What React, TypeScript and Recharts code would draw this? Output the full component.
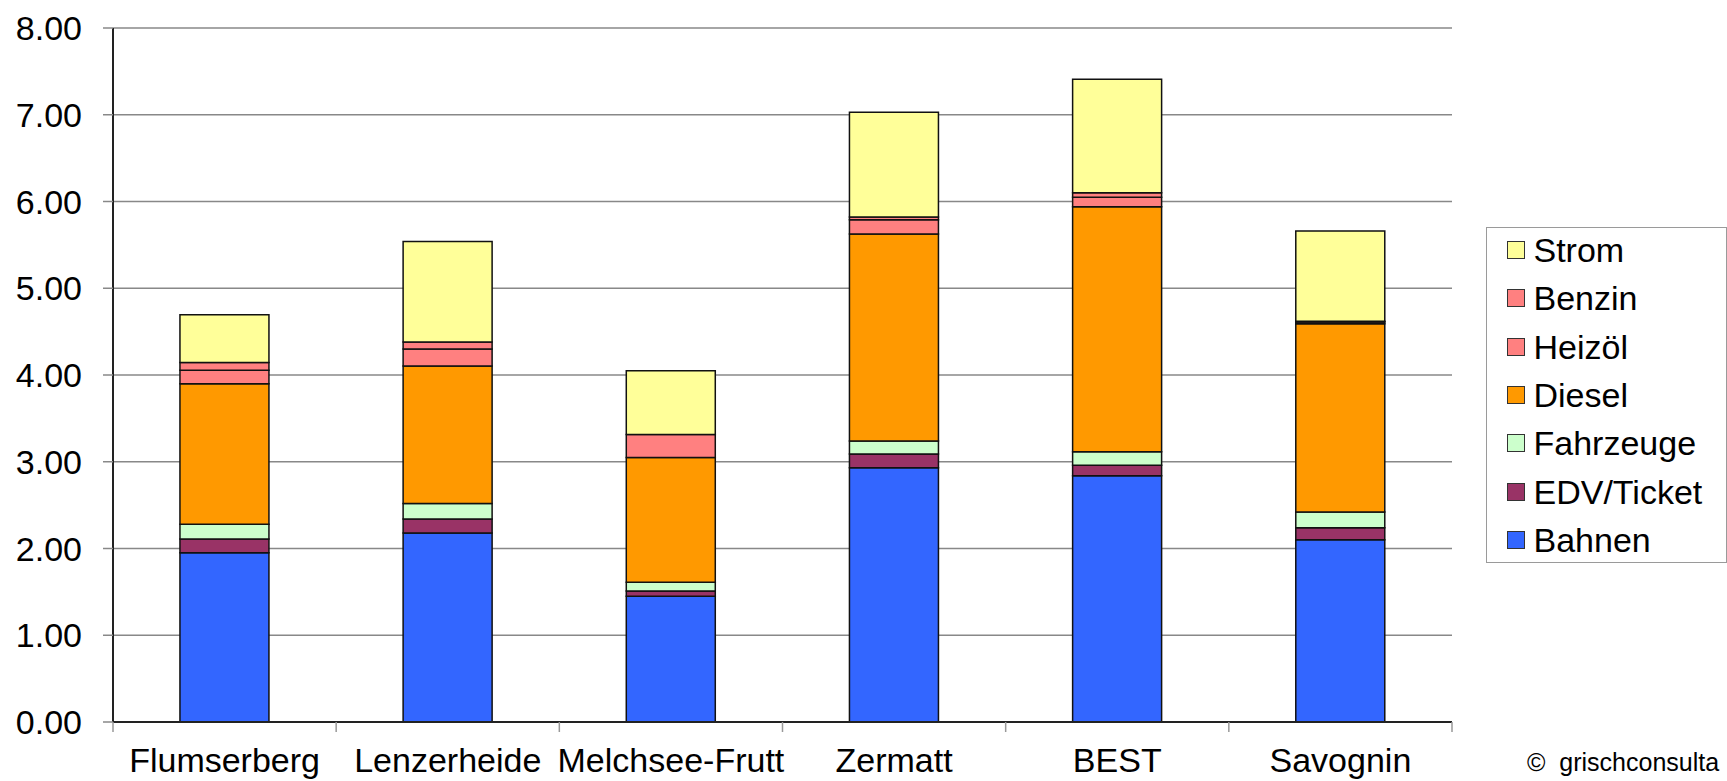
import React from 'react';
import { BarChart, Bar, XAxis, YAxis, CartesianGrid } from 'recharts';

const categories = ['Flumserberg', 'Lenzerheide', 'Melchsee-Frutt', 'Zermatt', 'BEST', 'Savognin'];
const bahnen = [1.95, 2.18, 1.45, 2.93, 2.84, 2.10];
const edvTicket = [0.16, 0.16, 0.06, 0.16, 0.12, 0.14];
const fahrzeuge = [0.17, 0.18, 0.10, 0.15, 0.155, 0.18];
const diesel = [1.62, 1.585, 1.44, 2.385, 2.825, 2.17];
const heizoel = [0.155, 0.195, 0.265, 0.165, 0.11, 0.02];
const benzin = [0.09, 0.08, 0.0, 0.03, 0.05, 0.01];
const strom = [0.55, 1.16, 0.735, 1.21, 1.31, 1.04];

const seriesNames = ['Bahnen', 'EDV/Ticket', 'Fahrzeuge', 'Diesel', 'Heizöl', 'Benzin', 'Strom'];
const seriesValues = [bahnen, edvTicket, fahrzeuge, diesel, heizoel, benzin, strom];
const seriesColors = ['#3366FF', '#993366', '#CCFFCC', '#FF9900', '#FF8080', '#FF8080', '#FFFF99'];

const yTicks = [0, 1, 2, 3, 4, 5, 6, 7, 8];
const credit = '©  grischconsulta';

const data = categories.map((name, i) => {
  const row: Record<string, any> = { name };
  seriesNames.forEach((_, k) => {
    row['s' + k] = seriesValues[k][i];
  });
  return row;
});

const FONT = '"Liberation Sans", Arial, Helvetica, sans-serif';
const X_TICK_MARGIN = 26;

const CategoryTick = (props: any) => {
  const { x, y, payload, index } = props;
  const half = payload && typeof payload.offset === 'number' && payload.offset > 0 ? payload.offset : 1339 / 12;
  const axisY = y - X_TICK_MARGIN;
  const last = index === categories.length - 1;
  return (
    <g>
      <line x1={x - half} x2={x - half} y1={axisY} y2={axisY + 10} stroke="#999" strokeWidth={1.5} />
      {last && <line x1={x + half} x2={x + half} y1={axisY} y2={axisY + 10} stroke="#999" strokeWidth={1.5} />}
      <text x={x} y={y} dy="0.71em" textAnchor="middle" fontSize={34} fill="#000" fontFamily={FONT}>
        {payload.value}
      </text>
    </g>
  );
};

const LegendBox = () => {
  const order = seriesNames.map((_, k) => k).reverse();
  return (
    <div
      style={{
        position: 'absolute',
        left: 1486,
        top: 227,
        width: 241,
        height: 336,
        boxSizing: 'border-box',
        border: '1.5px solid #9a9a9a',
        background: '#fff',
        fontFamily: FONT,
      }}
    >
      {order.map((k, row) => (
        <div
          key={k}
          style={{
            position: 'absolute',
            left: 0,
            top: -2 + row * 48.33,
            height: 48,
            display: 'flex',
            alignItems: 'center',
          }}
        >
          <div
            style={{
              marginLeft: 19.5,
              width: 16,
              height: 16,
              background: seriesColors[k],
              border: '1.5px solid #333',
              boxSizing: 'content-box',
            }}
          />
          <span style={{ marginLeft: 9, fontSize: 34, lineHeight: '48px', color: '#000', whiteSpace: 'nowrap' }}>
            {seriesNames[k]}
          </span>
        </div>
      ))}
    </div>
  );
};

export default function App() {
  return (
    <div style={{ position: 'absolute', left: 0, top: 0, width: 1727, height: 781, background: '#fff', fontFamily: FONT }}>
      <BarChart
        width={1727}
        height={781}
        data={data}
        margin={{ top: 28, right: 275, bottom: 0, left: 0 }}
        barCategoryGap="30%"
        style={{ fontFamily: FONT }}
      >
        <CartesianGrid xAxisId="cat" yAxisId="left" vertical={false} stroke="#888" strokeWidth={1.5} />
        <XAxis
          xAxisId="cat"
          dataKey="name"
          type="category"
          interval={0}
          height={59}
          axisLine={{ stroke: '#222', strokeWidth: 2 }}
          tickLine={false}
          tickSize={0}
          tickMargin={X_TICK_MARGIN}
          tick={<CategoryTick />}
        />
        <YAxis
          yAxisId="left"
          domain={[0, 8]}
          ticks={yTicks}
          interval={0}
          width={113}
          axisLine={{ stroke: '#222', strokeWidth: 2 }}
          tickLine={{ stroke: '#888', strokeWidth: 1.5 }}
          tickSize={10}
          tickMargin={21}
          tickFormatter={(v: number) => v.toFixed(2)}
          tick={{ fontSize: 34, fill: '#000', fontFamily: FONT }}
        />
        <YAxis
          yAxisId="right"
          orientation="right"
          domain={[0, 8]}
          width={0}
          tick={false}
          tickLine={false}
          axisLine={{ stroke: '#999', strokeWidth: 1.5 }}
        />
        {seriesNames.map((n, k) => (
          <Bar
            key={n}
            xAxisId="cat"
            yAxisId="left"
            dataKey={'s' + k}
            name={n}
            stackId="a"
            fill={seriesColors[k]}
            stroke="#111"
            strokeWidth={1.5}
            isAnimationActive={false}
          />
        ))}
      </BarChart>
      <LegendBox />
      <div
        style={{
          position: 'absolute',
          left: 1527,
          top: 750,
          fontSize: 25,
          lineHeight: '25px',
          whiteSpace: 'pre',
          color: '#000',
          fontFamily: FONT,
        }}
      >
        {credit}
      </div>
    </div>
  );
}
